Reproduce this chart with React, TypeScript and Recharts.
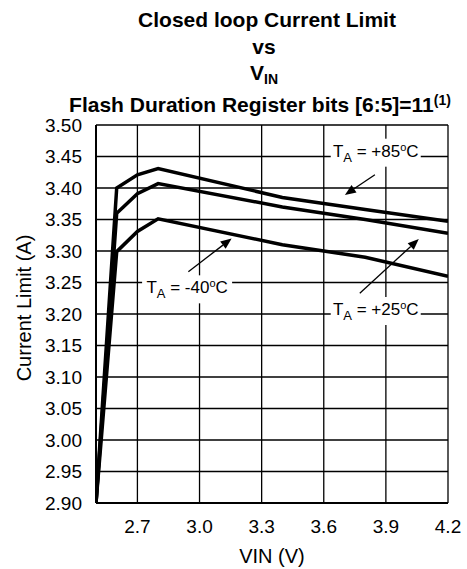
import { LineChart, Line, XAxis, YAxis, CartesianGrid, ReferenceLine, ReferenceDot } from 'recharts';

// VIN sweep points (V)
const vin = [2.5, 2.6, 2.7, 2.8, 3.4, 3.8, 4.2];
// closed loop current limit (A) per ambient temperature
const ta85 = [2.9, 3.4, 3.421, 3.431, 3.385, 3.366, 3.347];
const ta25 = [2.9, 3.36, 3.391, 3.407, 3.37, 3.35, 3.328];
const taM40 = [2.9, 3.299, 3.331, 3.351, 3.31, 3.29, 3.26];

const xTicks = [2.7, 3.0, 3.3, 3.6, 3.9, 4.2];
const yTicks = [2.9, 2.95, 3.0, 3.05, 3.1, 3.15, 3.2, 3.25, 3.3, 3.35, 3.4, 3.45, 3.5];

// annotation labels and their arrows (data units)
const noteText = ['+85', '-40', '+25'];
const noteAt = [
  [3.851, 3.4497],
  [2.94, 3.2328],
  [3.851, 3.1984],
];
const arrowFrom = [
  [3.847, 3.421],
  [2.946, 3.267],
  [3.774, 3.233],
];
const arrowTo = [
  [3.702, 3.389],
  [3.155, 3.32],
  [4.059, 3.319],
];

const data = vin.map((v, i) => ({ vin: v, t85: ta85[i], t25: ta25[i], tm40: taM40[i] }));

const FONT = 'Arial, "Liberation Sans", sans-serif';

function Arrow(props: any) {
  const { x1, y1, x2, y2 } = props;
  const ang = Math.atan2(y2 - y1, x2 - x1);
  const len = 11;
  const half = 4.5;
  const bx = x2 - len * Math.cos(ang);
  const by = y2 - len * Math.sin(ang);
  const px = -Math.sin(ang) * half;
  const py = Math.cos(ang) * half;
  return (
    <g>
      <line x1={x1} y1={y1} x2={bx} y2={by} stroke="#000" strokeWidth={1.3} />
      <polygon points={`${x2},${y2} ${bx + px},${by + py} ${bx - px},${by - py}`} fill="#000" />
    </g>
  );
}

function TempLabel(props: any) {
  const { cx, cy, value } = props;
  return (
    <g>
      <rect x={cx - 45} y={cy - 18} width={90} height={28} fill="#fff" />
      <text x={cx} y={cy} textAnchor="middle" fontSize={17} fontFamily={FONT} fill="#000">
        <tspan>T</tspan>
        <tspan dy={5} fontSize={13}>A</tspan>
        <tspan dy={-5}>{` = ${value}`}</tspan>
        <tspan dy={-6} fontSize={11}>o</tspan>
        <tspan dy={6}>C</tspan>
      </text>
    </g>
  );
}

const titleLine = (top: number, shift: number): React.CSSProperties => ({
  position: 'absolute',
  top,
  left: 64 + shift,
  width: 400,
  textAlign: 'center',
  fontFamily: FONT,
  fontWeight: 'bold',
  fontSize: 21,
  lineHeight: '21px',
  whiteSpace: 'nowrap',
});

export default function App() {
  return (
    <div style={{ position: 'absolute', left: 0, top: 0, width: 467, height: 569, background: '#fff' }}>
      <div style={titleLine(9, 3)}>Closed loop Current Limit</div>
      <div style={titleLine(36, 0)}>vs</div>
      <div style={titleLine(62, 0)}>
        V<sub style={{ fontSize: 14, verticalAlign: '-4px' }}>IN</sub>
      </div>
      <div style={titleLine(90, -4)}>
        Flash Duration Register bits [6:5]=11
        <sup style={{ fontSize: 14, verticalAlign: '7px' }}>(1)</sup>
      </div>
      <div style={{ position: 'absolute', left: 0, top: 0 }}>
        <LineChart width={467} height={569} data={data} margin={{ top: 125, right: 19, bottom: 0, left: 0 }}>
          <CartesianGrid stroke="#000" strokeWidth={1.3} />
          <XAxis
            dataKey="vin"
            type="number"
            domain={[2.5, 4.2]}
            ticks={xTicks}
            allowDataOverflow
            tickFormatter={(v) => Number(v).toFixed(1)}
            tickLine={false}
            tickSize={0}
            tickMargin={17}
            height={66}
            axisLine={{ stroke: '#000', strokeWidth: 2 }}
            tick={{ fill: '#000', fontSize: 19, fontFamily: FONT }}
            label={{
              value: 'VIN (V)',
              position: 'insideBottom',
              offset: 6,
              style: { fill: '#000', fontSize: 20, fontFamily: FONT },
            }}
          />
          <YAxis
            type="number"
            domain={[2.9, 3.5]}
            ticks={yTicks}
            allowDataOverflow
            interval={0}
            tickFormatter={(v) => Number(v).toFixed(2)}
            tickLine={false}
            tickSize={0}
            tickMargin={14}
            width={96}
            axisLine={{ stroke: '#000', strokeWidth: 2 }}
            tick={{ fill: '#000', fontSize: 19, fontFamily: FONT }}
            label={{
              value: 'Current Limit (A)',
              angle: -90,
              position: 'insideLeft',
              offset: 24,
              dy: -6,
              style: { fill: '#000', fontSize: 20, fontFamily: FONT, textAnchor: 'middle' },
            }}
          />
          {noteText.map((t, i) => (
            <ReferenceDot
              key={'l' + t}
              x={noteAt[i][0]}
              y={noteAt[i][1]}
              r={0}
              shape={(p: any) => <TempLabel {...p} value={t} />}
            />
          ))}
          {noteText.map((t, i) => (
            <ReferenceLine
              key={'a' + t}
              segment={[
                { x: arrowFrom[i][0], y: arrowFrom[i][1] },
                { x: arrowTo[i][0], y: arrowTo[i][1] },
              ]}
              shape={(p: any) => <Arrow {...p} />}
            />
          ))}
          <Line dataKey="t85" type="linear" stroke="#000" strokeWidth={3.5} dot={false} isAnimationActive={false} />
          <Line dataKey="t25" type="linear" stroke="#000" strokeWidth={3.5} dot={false} isAnimationActive={false} />
          <Line dataKey="tm40" type="linear" stroke="#000" strokeWidth={3.5} dot={false} isAnimationActive={false} />
        </LineChart>
      </div>
    </div>
  );
}
